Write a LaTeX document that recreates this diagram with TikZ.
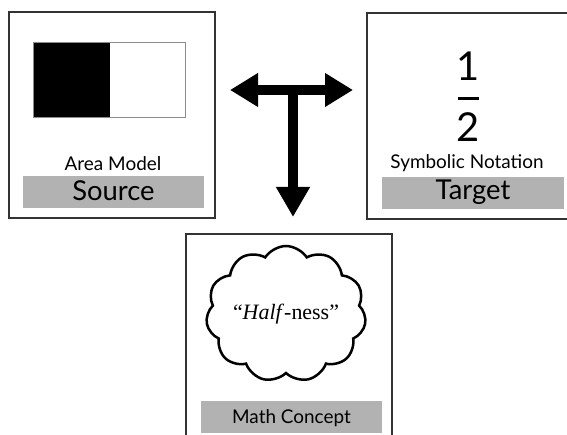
\documentclass[tikz,border=0pt]{standalone}
\usepackage{fontspec}
\setmainfont{Lato}
\newfontfamily\timesfont{Liberation Serif}
\usetikzlibrary{shapes.symbols,arrows.meta}

\tikzset{
  panel/.style={draw=black!80, line width=1.2bp},
  labelbar/.style={fill=black!30, draw=none},
  caption/.style={anchor=base, inner sep=0pt, font=\fontsize{19}{21}\selectfont},
  role/.style={anchor=base, inner sep=0pt, font=\fontsize{27.5}{30}\selectfont},
  bigarrow/.style={line width=9.5bp, {Triangle[length=28bp,width=32bp]}-{Triangle[length=28bp,width=32bp]}},
  downarrow/.style={line width=9.5bp, -{Triangle[length=30bp,width=32bp]}},
}

\begin{document}
\begin{tikzpicture}[x=1bp, y=-1bp]
  \useasboundingbox (0,0) rectangle (567,435);
  \fill[white] (0,0) rectangle (567,435);

  % --- source panel: area model ---
  \draw[panel] (9,12) rectangle (215,218);
  \fill[black] (33,42) rectangle (110,117);
  \draw[black!45, line width=0.8bp] (33,42) rectangle (185,117);
  \node[caption] (areaname) at (113,171) {Area Model};
  \fill[labelbar] (23,176) rectangle (204,208);
  \node[role] (source) at (113.5,200.5) {Source};

  % --- target panel: symbolic notation ---
  \draw[panel] (580,13) -- (367,13) -- (367,219) -- (580,219);
  \node (num) at (468,66) {\fontsize{40}{42}\selectfont 1};
  \fill[black] (458,97) rectangle (479,100);
  \node (den) at (468,127) {\fontsize{40}{42}\selectfont 2};
  \node[caption] (symname) at (467,169) {Symbolic Notation};
  \fill[labelbar] (382,177) rectangle (564,209);
  \node[role] (target) at (473,200) {Target};

  % --- concept panel ---
  \draw[panel] (186,440) -- (186,234) -- (392,234) -- (392,440);
  \node[cloud, cloud puffs=11, cloud puff arc=115, cloud ignores aspect, draw, line width=2.5bp,
        minimum width=160bp, minimum height=136bp, inner sep=0pt] (idea) at (286,314)
        {\timesfont\fontsize{22}{24}\selectfont “\textit{Half}-ness”};
  \fill[labelbar] (201,401) rectangle (382,433);
  \node[caption] (concept) at (291.5,423) {Math Concept};

  % --- T-shaped arrow ---
  \coordinate (tipL) at (230,90);
  \coordinate (tipR) at (353,90);
  \coordinate (junction) at (293,90);
  \coordinate (tipD) at (293,217);
  \draw[bigarrow] (tipL) -- (tipR);
  \draw[downarrow] (junction) -- (tipD);
\end{tikzpicture}
\end{document}
